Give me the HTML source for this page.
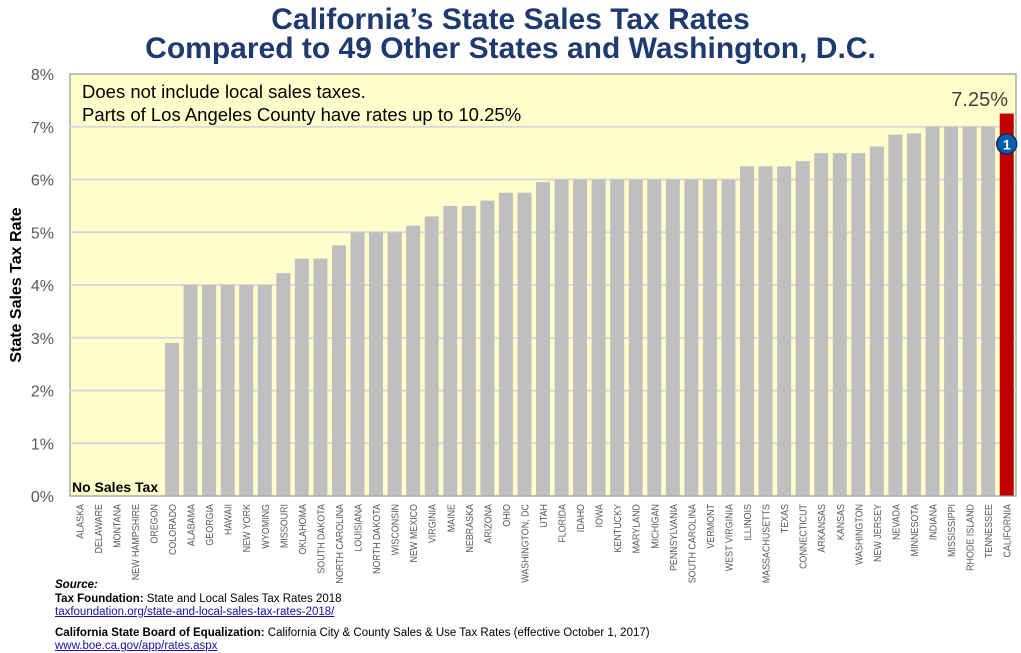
<!DOCTYPE html>
<html><head><meta charset="utf-8"><style>
body{margin:0;background:#fff;width:1021px;height:652px;overflow:hidden;font-family:"Liberation Sans",sans-serif}
#title{position:absolute;left:0;width:1021px;top:5px;text-align:center;color:#1f3a6e;font-weight:bold;font-size:30px;line-height:29px}
.src{position:absolute;left:55px;font-size:11.5px;color:#000;line-height:13px}
a{color:#1a0dab}
</style></head><body>
<div id="title">California’s State Sales Tax Rates<br>Compared to 49 Other States and Washington, D.C.</div>
<svg id="chart" width="1021" height="652" style="position:absolute;left:0;top:0"></svg>
<div class="src" style="top:579px;font-weight:bold;font-style:italic">Source:</div>
<div class="src" style="top:593px"><b>Tax Foundation:</b> State and Local Sales Tax Rates 2018<br><a href="#">taxfoundation.org/state-and-local-sales-tax-rates-2018/</a></div>
<div class="src" style="top:627px"><b>California State Board of Equalization:</b> California City &amp; County Sales &amp; Use Tax Rates (effective October 1, 2017)<br><a href="#">www.boe.ca.gov/app/rates.aspx</a></div>
<script>
const states=["ALASKA","DELAWARE","MONTANA","NEW HAMPSHIRE","OREGON","COLORADO","ALABAMA","GEORGIA","HAWAII","NEW YORK","WYOMING","MISSOURI","OKLAHOMA","SOUTH DAKOTA","NORTH CAROLINA","LOUISIANA","NORTH DAKOTA","WISCONSIN","NEW MEXICO","VIRGINIA","MAINE","NEBRASKA","ARIZONA","OHIO","WASHINGTON, DC","UTAH","FLORIDA","IDAHO","IOWA","KENTUCKY","MARYLAND","MICHIGAN","PENNSYLVANIA","SOUTH CAROLINA","VERMONT","WEST VIRGINIA","ILLINOIS","MASSACHUSETTS","TEXAS","CONNECTICUT","ARKANSAS","KANSAS","WASHINGTON","NEW JERSEY","NEVADA","MINNESOTA","INDIANA","MISSISSIPPI","RHODE ISLAND","TENNESSEE","CALIFORNIA"];
const rates=[0,0,0,0,0,2.9,4,4,4,4,4,4.225,4.5,4.5,4.75,5,5,5,5.125,5.3,5.5,5.5,5.6,5.75,5.75,5.95,6,6,6,6,6,6,6,6,6,6,6.25,6.25,6.25,6.35,6.5,6.5,6.5,6.625,6.85,6.875,7,7,7,7,7.25];
const yTicks=[0,1,2,3,4,5,6,7,8];
const NS="http://www.w3.org/2000/svg",svg=document.getElementById('chart');
const L=70,R=1016,T=74,B=496,yMax=8;
const y=v=>B-(v/yMax)*(B-T);
const slot=(R-L)/states.length;
const x=i=>L+(i+0.5)*slot;
function mk(t,a,p){const e=document.createElementNS(NS,t);for(const k in a)e.setAttribute(k,a[k]);(p||svg).appendChild(e);return e;}
const bg=mk('rect',{x:L,y:T,width:R-L,height:B-T,fill:'#ffffcc',stroke:'#aaa','stroke-width':1.5});


yTicks.forEach(v=>{
  if(v>0&&v<8){const g=mk('line',{x1:L,x2:R,y1:y(v),y2:y(v),stroke:'#d9d9d9','stroke-width':2});
  
  }
  const t=mk('text',{x:54,y:y(v)+6,'text-anchor':'end','font-size':16,fill:'#595959'});
  t.textContent=v+'%';
  
  
});
states.forEach((s,i)=>{
  const v=rates[i];
  if(v>0){const b=mk('rect',{x:x(i)-7,y:y(v),width:14,height:B-y(v),fill:i==states.length-1?'#c00000':'#bfbfbf'});
  
  }
  const t=mk('text',{transform:`translate(${x(i)+4},504) rotate(-90) scale(0.85,1)`,'text-anchor':'end','font-size':10.5,fill:'#595959'});
  t.textContent=s;
  
  
});
mk('line',{x1:L,x2:R,y1:B,y2:B,stroke:'#aaa','stroke-width':1});
const yt=mk('text',{transform:'translate(21,285) rotate(-90)','text-anchor':'middle','font-size':16,'font-weight':'bold',fill:'#000'});
yt.textContent='State Sales Tax Rate';


const n1=mk('text',{x:82,y:98,'font-size':18.5,fill:'#000'});n1.textContent='Does not include local sales taxes.';


const n2=mk('text',{x:82,y:121,'font-size':18.5,fill:'#000'});n2.textContent='Parts of Los Angeles County have rates up to 10.25%';


const ns=mk('text',{x:72,y:492,'font-size':14,'font-weight':'bold',fill:'#000'});ns.textContent='No Sales Tax';


const ci=states.length-1;
const cl=mk('text',{x:1008,y:106,'text-anchor':'end','font-size':20,fill:'#404040'});cl.textContent=rates[ci].toFixed(2)+'%';


const c=mk('circle',{cx:x(ci),cy:144,r:10,fill:'#0b5cad',stroke:'#0a2f5c','stroke-width':1.5});


const ct=mk('text',{x:x(ci),y:149.5,'text-anchor':'middle','font-size':14,'font-weight':'bold',fill:'#fff'});ct.textContent='1';


</script>
</body></html>
